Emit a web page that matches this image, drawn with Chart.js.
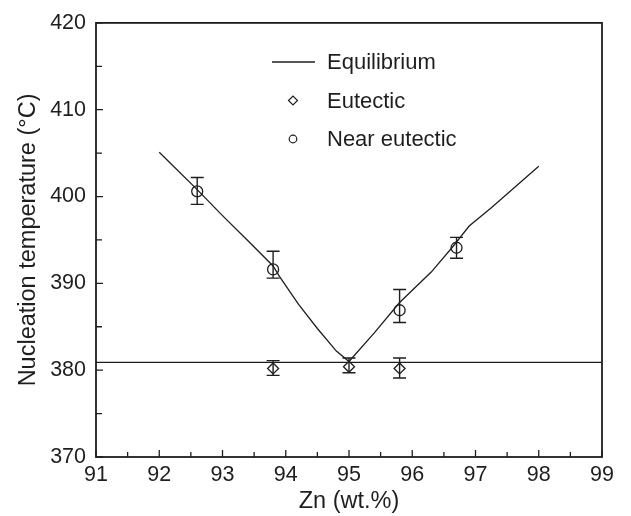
<!DOCTYPE html>
<html>
<head>
<meta charset="utf-8">
<script src="https://cdn.jsdelivr.net/npm/chart.js@4/dist/chart.umd.min.js"></script>
<style>
    html, body { margin: 0; padding: 0; background: #fff; }
    #wrap { width: 631px; height: 516px; }
</style>
</head>
<body>
<div id="wrap"><canvas id="chart" width="631" height="516"></canvas></div>
<script>
// equilibrium liquidus (V shape)
const eqX = [92.0, 92.6, 93.0, 93.43, 93.8, 93.9, 94.2, 94.5, 94.8, 95.0, 95.4, 95.8, 96.3, 96.65, 96.9, 97.25, 98.0];
const eqY = [405.1, 400.8, 397.8, 394.7, 392.0, 390.8, 387.6, 384.8, 382.2, 381.0, 384.3, 387.8, 391.3, 394.3, 396.6, 398.7, 403.5];

// eutectic temperature line
const eutLineX = [91, 99];
const eutLineY = [380.9, 380.9];

// eutectic samples
const eutX = [93.8, 95.0, 95.8];
const eutY = [380.2, 380.4, 380.2];
const eutLo = [379.4, 379.7, 379.1];
const eutHi = [381.1, 381.4, 381.4];

// near eutectic samples
const nearX = [92.6, 93.8, 95.8, 96.7];
const nearY = [400.6, 391.6, 386.9, 394.1];
const nearLo = [399.1, 390.6, 385.5, 392.9];
const nearHi = [402.2, 393.7, 389.3, 395.3];

const xTicks = [91, 92, 93, 94, 95, 96, 97, 98, 99];
const yTicks = [370, 380, 390, 400, 410, 420];

const INK = '#1e1e1e';
const FONT = '"Liberation Sans", Arial, sans-serif';

const toPts = (xs, ys) => xs.map((x, i) => ({ x: x, y: ys[i] }));

// box, inward ticks and error bars
const framePlugin = {
    id: 'frame',
    afterDatasetsDraw(chart) {
        const ctx = chart.ctx;
        const area = chart.chartArea;
        const xs = chart.scales.x;
        const ys = chart.scales.y;
        ctx.save();
        ctx.strokeStyle = INK;

        // error bars
        ctx.lineWidth = 1.4;
        const bars = (xArr, lo, hi) => {
            xArr.forEach((v, i) => {
                const px = xs.getPixelForValue(v);
                const pLo = ys.getPixelForValue(lo[i]);
                const pHi = ys.getPixelForValue(hi[i]);
                ctx.beginPath();
                ctx.moveTo(px, pLo); ctx.lineTo(px, pHi);
                ctx.moveTo(px - 6.5, pLo); ctx.lineTo(px + 6.5, pLo);
                ctx.moveTo(px - 6.5, pHi); ctx.lineTo(px + 6.5, pHi);
                ctx.stroke();
            });
        };
        bars(eutX, eutLo, eutHi);
        bars(nearX, nearLo, nearHi);

        // inward ticks
        ctx.lineWidth = 1.3;
        ctx.beginPath();
        for (let v = 91; v <= 99.001; v += 0.5) {
            const px = xs.getPixelForValue(v);
            const len = Number.isInteger(v) ? 7 : 5;
            ctx.moveTo(px, area.bottom);
            ctx.lineTo(px, area.bottom - len);
        }
        for (let v = 370; v <= 420.001; v += 5) {
            const py = ys.getPixelForValue(v);
            const len = v % 10 === 0 ? 7 : 6;
            ctx.moveTo(area.left, py);
            ctx.lineTo(area.left + len, py);
        }
        ctx.stroke();

        // plot box
        ctx.lineWidth = 1.8;
        ctx.strokeRect(area.left, area.top, area.right - area.left, area.bottom - area.top);
        ctx.restore();
    },
};

// legend drawn inside the plot like the original
const legendPlugin = {
    id: 'innerLegend',
    afterDraw(chart) {
        const ctx = chart.ctx;
        const opts = chart.options.plugins.innerLegend;
        const lx = opts.x;
        const rows = [
            { kind: 'line', label: chart.data.datasets[0].label },
            { kind: 'rectRot', label: chart.data.datasets[2].label },
            { kind: 'circle', label: chart.data.datasets[3].label },
        ];
        ctx.save();
        ctx.strokeStyle = INK;
        ctx.textBaseline = 'middle';
        rows.forEach((r, i) => {
            const y = opts.y + i * opts.gap;
            if (r.kind === 'line') {
                ctx.lineWidth = 1.3;
                ctx.beginPath();
                ctx.moveTo(lx - 21, y);
                ctx.lineTo(lx + 22, y);
                ctx.stroke();
            } else {
                ctx.lineWidth = 1.2;
                ctx.fillStyle = 'rgba(0,0,0,0)';
                Chart.helpers.drawPoint(ctx, { pointStyle: r.kind, radius: r.kind === 'circle' ? 3.8 : 4.5, rotation: 0, borderWidth: 1.2 }, lx, y);
            }
            ctx.fillStyle = INK;
            ctx.font = '22px ' + FONT;
            ctx.fillText(r.label, opts.textX, y + 1);
        });
        ctx.restore();
    },
};

new Chart(document.getElementById('chart'), {
    type: 'scatter',
    data: {
        datasets: [
            {
                label: 'Equilibrium',
                type: 'line',
                data: toPts(eqX, eqY),
                borderColor: INK,
                borderWidth: 1.3,
                pointRadius: 0,
                tension: 0,
                fill: false,
            },
            {
                label: 'Eutectic line',
                type: 'line',
                data: toPts(eutLineX, eutLineY),
                borderColor: INK,
                borderWidth: 1.3,
                pointRadius: 0,
                fill: false,
            },
            {
                label: 'Eutectic',
                data: toPts(eutX, eutY),
                pointStyle: 'rectRot',
                pointRadius: 5.5,
                borderColor: INK,
                borderWidth: 1.3,
                backgroundColor: 'rgba(0,0,0,0)',
            },
            {
                label: 'Near eutectic',
                data: toPts(nearX, nearY),
                pointStyle: 'circle',
                pointRadius: 5.5,
                borderColor: INK,
                borderWidth: 1.3,
                backgroundColor: 'rgba(0,0,0,0)',
            },
        ],
    },
    options: {
        responsive: false,
        animation: false,
        devicePixelRatio: 1,
        layout: { padding: { top: 19, right: 29, left: 0, bottom: 0 } },
        plugins: {
            legend: { display: false },
            tooltip: { enabled: false },
            innerLegend: { x: 293, y: 62, gap: 38.5, textX: 327 },
        },
        scales: {
            x: {
                type: 'linear',
                min: 91,
                max: 99,
                afterBuildTicks: (s) => { s.ticks = xTicks.map(v => ({ value: v })); },
                afterFit: (s) => { s.height = 59; },
                grid: { display: false, drawTicks: false },
                border: { display: false },
                ticks: { color: INK, font: { family: FONT, size: 21.5 }, padding: 5, maxRotation: 0 },
                title: {
                    display: true,
                    text: 'Zn (wt.%)',
                    color: INK,
                    font: { family: FONT, size: 23.5 },
                    padding: { top: 0, bottom: 0 },
                },
            },
            y: {
                type: 'linear',
                min: 370,
                max: 420,
                afterBuildTicks: (s) => { s.ticks = yTicks.map(v => ({ value: v })); },
                afterFit: (s) => { s.width = 96; },
                grid: { display: false, drawTicks: false },
                border: { display: false },
                ticks: { color: INK, font: { family: FONT, size: 21.5 }, padding: 10 },
                title: {
                    display: true,
                    text: 'Nucleation temperature (°C)',
                    color: INK,
                    font: { family: FONT, size: 23.5 },
                    padding: { top: 14, bottom: 0 },
                },
            },
        },
    },
    plugins: [framePlugin, legendPlugin],
});
</script>
</body>
</html>
